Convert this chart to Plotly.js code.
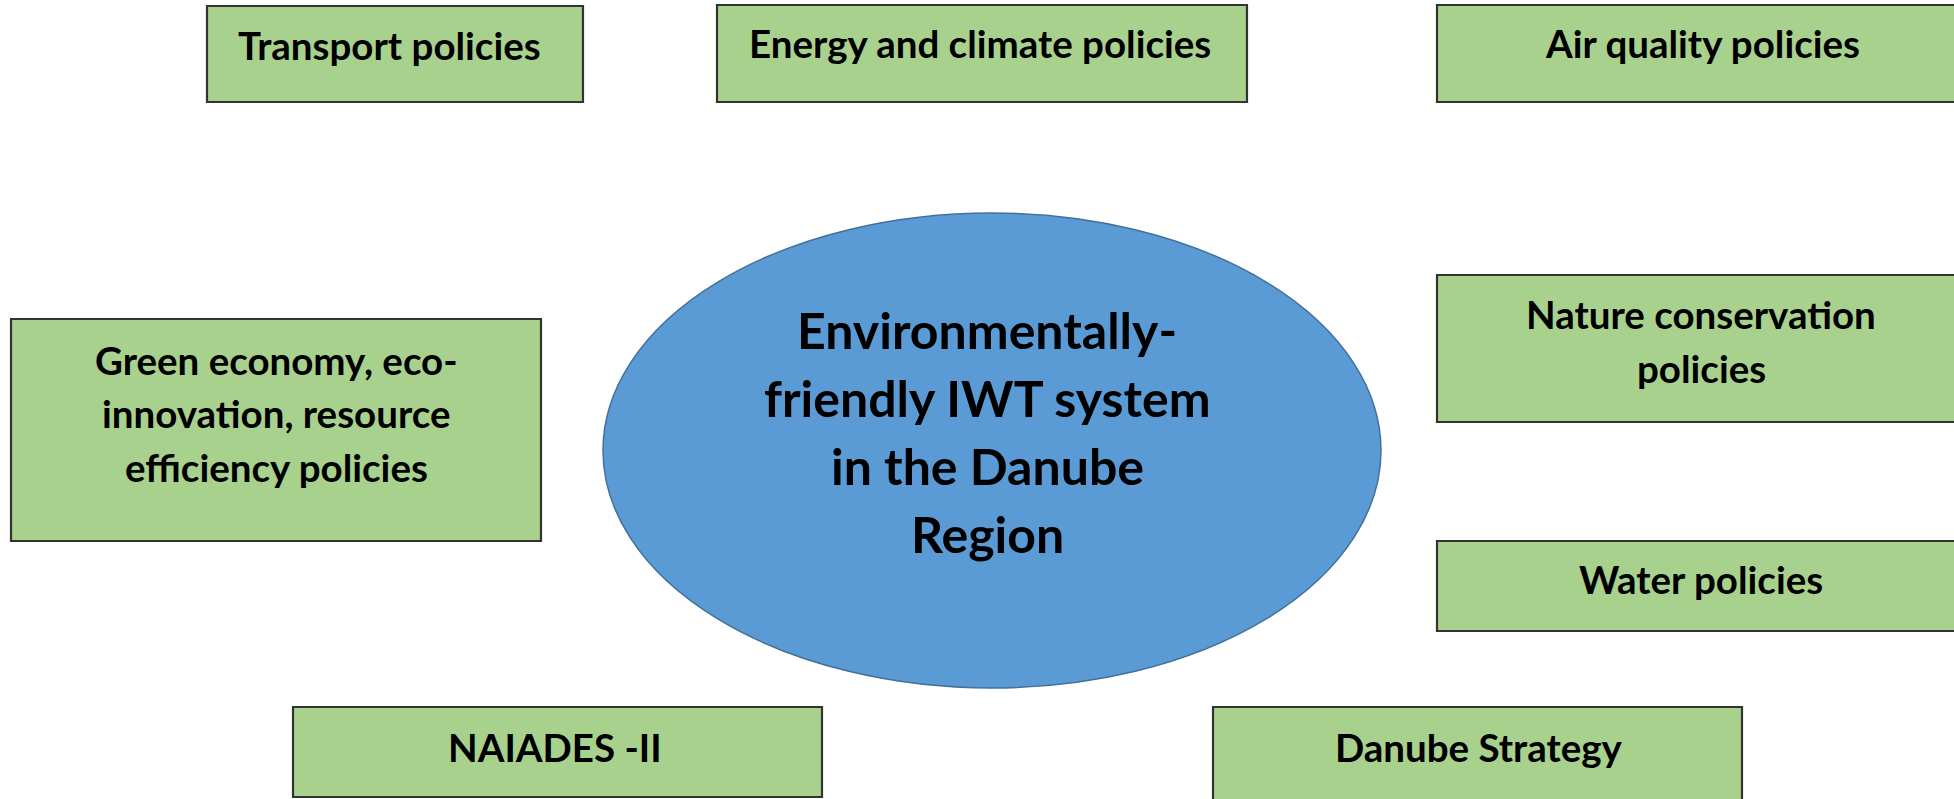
<!DOCTYPE html>
<html>
<head>
<meta charset="utf-8">
<script src="https://cdn.plot.ly/plotly-3.0.1.min.js"></script>
<style>html,body{margin:0;padding:0;background:#fff;}#chart{width:1954px;height:799px;}</style>
</head>
<body>
<div id="chart"></div>
<script>
// Diagram content
const centerLabel = ["Environmentally-", "friendly IWT system", "in the Danube", "Region"];
const policyLabels = [
  ["Transport policies"],
  ["Energy and climate policies"],
  ["Air quality policies"],
  ["Green economy, eco-", "innovation, resource", "efficiency policies"],
  ["Nature conservation", "policies"],
  ["Water policies"],
  ["NAIADES -II"],
  ["Danube Strategy"]
];

// Layout geometry (pixels, y downward)
const boxGeom = [
  {x0: 207, x1: 583, y0: 6, y1: 102, tx: 389, ty: 45},
  {x0: 717, x1: 1247, y0: 5, y1: 102, tx: 980, ty: 43},
  {x0: 1437, x1: 1975, y0: 5, y1: 102, tx: 1702, ty: 43},
  {x0: 11, x1: 541, y0: 319, y1: 541, tx: 276, ty: 413},
  {x0: 1437, x1: 1975, y0: 275, y1: 422, tx: 1701, ty: 341},
  {x0: 1437, x1: 1975, y0: 541, y1: 631, tx: 1701, ty: 579},
  {x0: 293, x1: 822, y0: 707, y1: 797, tx: 555, ty: 747},
  {x0: 1213, x1: 1742, y0: 707, y1: 830, tx: 1479, ty: 747}
];
const ellipseGeom = {x0: 603, x1: 1381, y0: 213, y1: 688, tx: 987, ty: 432};

const FONT = 'Lato, "Open Sans", sans-serif';
const BOX_SIZE = 38.5, BOX_GAP = 53.5;
const ELL_SIZE = 50, ELL_GAP = 68;

const shapes = [];
const annotations = [];

function addLines(lines, cx, cy, size, gap) {
  const n = lines.length;
  lines.forEach((t, k) => {
    annotations.push({
      xref: 'x', yref: 'y', x: cx, y: cy + (k - (n - 1) / 2) * gap,
      xanchor: 'center', yanchor: 'middle', showarrow: false,
      text: '<b>' + t + '</b>',
      font: {family: FONT, size: size, color: '#000000'}
    });
  });
}

policyLabels.forEach((lines, i) => {
  const g = boxGeom[i];
  shapes.push({
    type: 'rect', xref: 'x', yref: 'y',
    x0: g.x0, x1: g.x1, y0: g.y0, y1: g.y1,
    fillcolor: '#a9d18e',
    line: {color: '#333333', width: 2.2}
  });
  addLines(lines, g.tx, g.ty, BOX_SIZE, BOX_GAP);
});

shapes.push({
  type: 'circle', xref: 'x', yref: 'y',
  x0: ellipseGeom.x0, x1: ellipseGeom.x1, y0: ellipseGeom.y0, y1: ellipseGeom.y1,
  fillcolor: '#5b9bd5',
  line: {color: '#41719c', width: 1.5}
});
addLines(centerLabel, ellipseGeom.tx, ellipseGeom.ty, ELL_SIZE, ELL_GAP);

const layout = {
  width: 1954, height: 799,
  margin: {l: 0, r: 0, t: 0, b: 0, pad: 0},
  paper_bgcolor: '#ffffff', plot_bgcolor: '#ffffff',
  xaxis: {range: [0, 1954], visible: false, fixedrange: true},
  yaxis: {range: [799, 0], visible: false, fixedrange: true},
  showlegend: false,
  shapes: shapes,
  annotations: annotations
};

Plotly.newPlot('chart', [{x: [], y: [], type: 'scatter', hoverinfo: 'skip'}], layout, {displayModeBar: false, staticPlot: true});
</script>
</body>
</html>
